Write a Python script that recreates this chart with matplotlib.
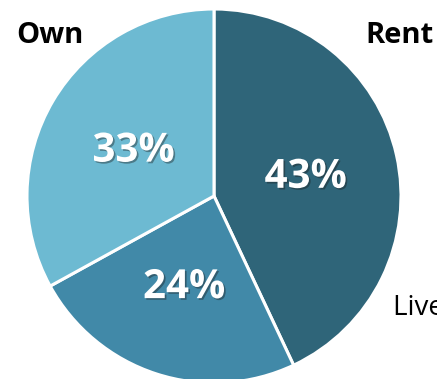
import matplotlib.pyplot as plt
import matplotlib.patheffects as pe

# housing situation shares
labels = ['Rent', 'Live with parents', 'Own']
shares = [43, 24, 33]
colors = ['#2F6579', '#4189A8', '#6DBAD2']

plt.rcParams['font.family'] = ['Open Sans', 'DejaVu Sans']

fig = plt.figure(figsize=(4.37, 3.79), dpi=100)
ax = fig.add_axes([0, 0, 1, 1])

wedges, _ = ax.pie(shares, colors=colors, startangle=90, counterclock=False,
                   radius=1, wedgeprops=dict(edgecolor='white', linewidth=2.2))

# pie centre sits at (214, 196) px with a 187 px radius, bottom runs off the canvas
r = 187
ax.set_xlim(-214 / r, (437 - 214) / r)
ax.set_ylim(-(379 - 196) / r, 196 / r)
ax.set_aspect('equal', adjustable='box')
ax.axis('off')

# percentage labels inside the slices
pct_pos = [(0.49, 0.10), (-0.16, -0.49), (-0.43, 0.24)]
shadow = [pe.SimplePatchShadow(offset=(1.2, -1.2), shadow_rgbFace='#1a1a1a', alpha=0.4), pe.Normal()]
for val, (x, y) in zip(shares, pct_pos):
    ax.text(x, y, f'{val}%', ha='center', va='center', color='white',
            fontsize=29, fontweight='bold', path_effects=shadow)

# category names around the pie
ax.text(-0.875, 0.86, labels[2], ha='center', va='center', fontsize=21, fontweight='bold')
ax.text(0.99, 0.86, labels[0], ha='center', va='center', fontsize=21, fontweight='bold')
ax.text(0.955, -0.60, labels[1], ha='left', va='center', fontsize=20)

fig.savefig('out.png', dpi=100)
